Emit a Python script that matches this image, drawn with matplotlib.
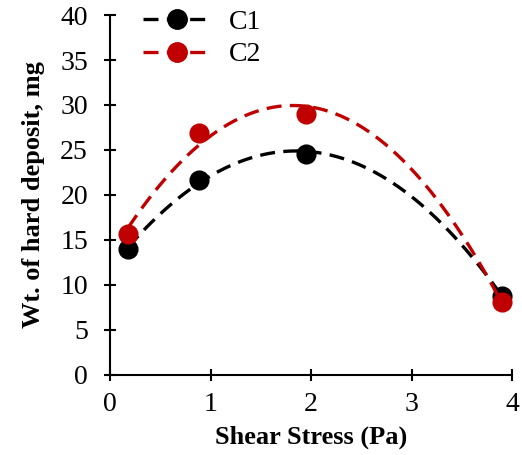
import numpy as np
import matplotlib
matplotlib.use('Agg')
import matplotlib.pyplot as plt
from matplotlib.lines import Line2D

stress = [0.18, 0.88, 1.95, 3.9]
c1 = [14.0, 21.7, 24.6, 8.8]
c2 = [15.7, 26.9, 29.0, 8.1]

plt.rcParams['font.family'] = ['Liberation Serif', 'DejaVu Serif']

fig = plt.figure(figsize=(5.22, 4.55), dpi=100)
ax = fig.add_axes([0.211, 0.176, 0.77, 0.791])

xs = np.linspace(min(stress), max(stress), 200)
for ys, col in [(c1, 'black'), (c2, '#c00000')]:
    # quadratic trendline like excel
    fit = np.polyval(np.polyfit(stress, ys, 2), xs)
    ax.plot(xs, fit, color=col, lw=2.4, dashes=(4.5, 2.5))
    ax.plot(stress, ys, 'o', color=col, ms=13.5, ls='none')

handles = [Line2D([], [], color='black', lw=2.4, dashes=(4.5, 2.5), marker='o', ms=14),
           Line2D([], [], color='#c00000', lw=2.4, dashes=(4.5, 2.5), marker='o', ms=14)]
ax.legend(handles, ['C1', 'C2'], loc='upper left', bbox_to_anchor=(0.02, 1.085),
          frameon=False, fontsize=20, handlelength=2.4, handletextpad=0.7, labelspacing=0.25)

ax.set_xlim(0, 4)
ax.set_ylim(0, 40)
ax.set_xticks(range(0, 5))
ax.set_yticks(range(0, 45, 5))
ax.spines['top'].set_visible(False)
ax.spines['right'].set_visible(False)
ax.spines['left'].set_linewidth(1.5)
ax.spines['bottom'].set_linewidth(1.5)
ax.tick_params(direction='inout', length=9, width=1.5, labelsize=20)
ax.tick_params(axis='x', pad=8)
ax.tick_params(axis='y', pad=11.5)
ax.set_xlabel('Shear Stress (Pa)', fontsize=19, fontweight='bold', labelpad=6)
ax.set_ylabel('Wt. of hard deposit, mg', fontsize=19, fontweight='bold', labelpad=11)

fig.savefig('out.png', dpi=100)
